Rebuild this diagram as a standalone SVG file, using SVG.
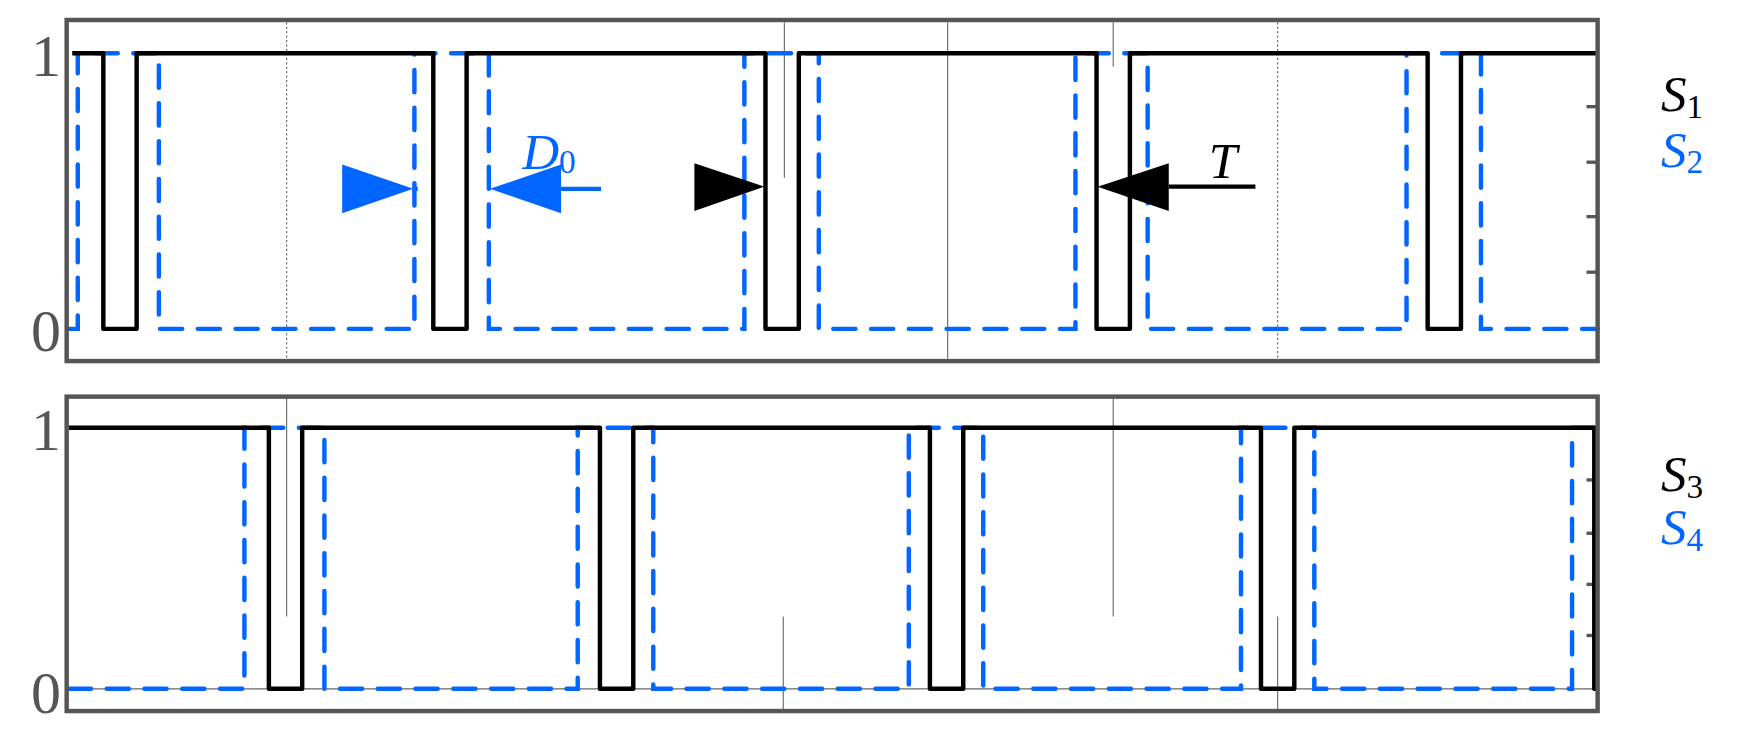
<svg xmlns="http://www.w3.org/2000/svg" width="1742" height="742" viewBox="0 0 1742 742">
<style>
.frame{fill:none;stroke:#555;stroke-width:4}
.grid{stroke:#666;stroke-width:1}
.blk{fill:none;stroke:#000;stroke-width:4;stroke-linejoin:round}
.blu{fill:none;stroke:#0066ff;stroke-width:4;stroke-dasharray:20 14;stroke-linecap:round}
.tick{stroke:#555;stroke-width:3}
.ax{font-family:"Liberation Serif",serif;font-size:54px;fill:#555}
.lab{font-family:"Liberation Serif",serif;font-style:italic;font-size:46px}
.sub{font-size:30px;font-style:normal}
</style>
<rect width="1742" height="742" fill="#fff"/>
<g transform="scale(1.111)">
<g id="panel-top">
<line class="grid" x1="258" y1="20" x2="258" y2="323" stroke-dasharray="2 2"/>
<line class="grid" x1="853" y1="20" x2="853" y2="323"/>
<line class="grid" x1="1150" y1="20" x2="1150" y2="323" stroke-dasharray="2 2"/>
<line class="grid" x1="706" y1="20" x2="706" y2="160"/>
<line class="grid" x1="1002" y1="20" x2="1002" y2="60"/>
<g class="tick"><line x1="1428" y1="96" x2="1438" y2="96"/><line x1="1428" y1="146" x2="1438" y2="146"/><line x1="1428" y1="195" x2="1438" y2="195"/><line x1="1428" y1="245" x2="1438" y2="245"/><line x1="1428" y1="48" x2="1438" y2="48"/></g>
<polyline class="blu" points="62,296 70,296 70,48 143,48 143,296 373,296 373,48 440,48 440,296 670,296 670,48 737,48 737,296 968,296 968,48 1033,48 1033,296 1266,296 1266,48 1333,48 1333,296 1438,296"/>
<polyline class="blk" points="65,48 93,48 93,296 123,296 123,48 390,48 390,296 420,296 420,48 689,48 689,296 719,296 719,48 987,48 987,296 1017,296 1017,48 1285,48 1285,296 1315,296 1315,48 1438,48"/>
<rect class="frame" x="60" y="18" width="1378" height="307"/>
<text class="ax" x="28" y="68">1</text>
<text class="ax" x="28" y="316">0</text>
<text class="lab" x="1495" y="100" fill="#000">S<tspan class="sub" dy="6">1</tspan></text>
<text class="lab" x="1495" y="150" fill="#0066ff">S<tspan class="sub" dy="6">2</tspan></text>
</g>
<g id="annotations">
<polygon points="308,148 372,170 308,192" fill="#0066ff"/>
<line x1="372" y1="170" x2="376" y2="170" stroke="#0066ff" stroke-width="4"/>
<polygon points="441,170 505,148 505,192" fill="#0066ff"/>
<line x1="505" y1="170" x2="541" y2="170" stroke="#0066ff" stroke-width="4"/>
<text class="lab" x="470" y="152" fill="#0066ff" font-size="40">D<tspan class="sub" dy="4">0</tspan></text>
<polygon points="625,147 688,168 625,190" fill="#000"/>
<polygon points="988,168 1052,147 1052,190" fill="#000"/>
<line x1="1052" y1="168" x2="1130" y2="168" stroke="#000" stroke-width="4"/>
<text class="lab" x="1088" y="160" fill="#000" font-size="44">T</text>
</g>
<g id="panel-bottom">
<line class="grid" x1="258" y1="358" x2="258" y2="555"/>
<line class="grid" x1="705" y1="555" x2="705" y2="640"/>
<line class="grid" x1="1002" y1="358" x2="1002" y2="555"/>
<line class="grid" x1="1150" y1="555" x2="1150" y2="640"/>
<line class="grid" x1="60" y1="620" x2="1438" y2="620"/>
<g class="tick"><line x1="1428" y1="432" x2="1438" y2="432"/><line x1="1428" y1="480" x2="1438" y2="480"/><line x1="1428" y1="526" x2="1438" y2="526"/><line x1="1428" y1="572" x2="1438" y2="572"/></g>
<polyline class="blu" points="62,620 220,620 220,385 292,385 292,620 520,620 520,385 588,385 588,620 818,620 818,385 885,385 885,620 1117,620 1117,385 1183,385 1183,620 1415,620 1415,385 1438,385"/>
<polyline class="blk" points="62,385 242,385 242,620 272,620 272,385 540,385 540,620 570,620 570,385 837,385 837,620 867,620 867,385 1135,385 1135,620 1165,620 1165,385 1435,385 1435,620 1438,620"/>
<rect class="frame" x="60" y="357" width="1378" height="283"/>
<text class="ax" x="28" y="405">1</text>
<text class="ax" x="28" y="642">0</text>
<text class="lab" x="1495" y="442" fill="#000">S<tspan class="sub" dy="6">3</tspan></text>
<text class="lab" x="1495" y="490" fill="#0066ff">S<tspan class="sub" dy="6">4</tspan></text>
</g>
</g>
</svg>
